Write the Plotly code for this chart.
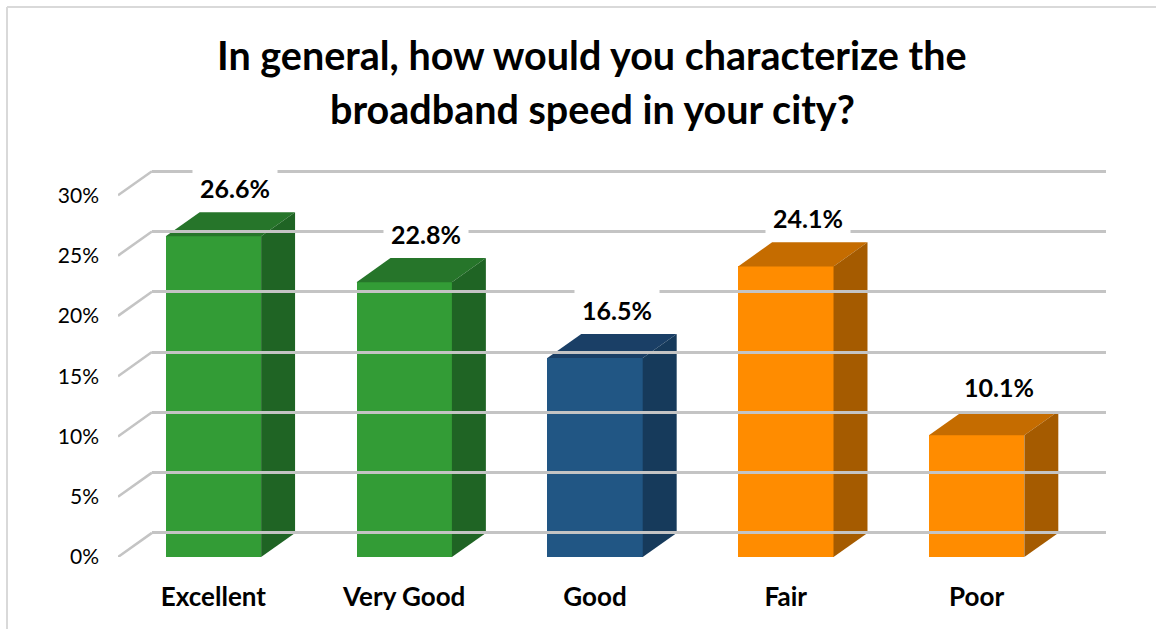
import plotly.graph_objects as go

# ---- data ----
categories = ["Excellent", "Very Good", "Good", "Fair", "Poor"]
values = [26.6, 22.8, 16.5, 24.1, 10.1]
value_labels = ["26.6%", "22.8%", "16.5%", "24.1%", "10.1%"]
y_ticks = [0, 5, 10, 15, 20, 25, 30]
y_tick_labels = ["0%", "5%", "10%", "15%", "20%", "25%", "30%"]
title_lines = ["In general, how would you characterize the", "broadband speed in your city?"]

# ---- style ----
front_colors = ["#339c36", "#339c36", "#215684", "#ff8c00", "#ff8c00"]
top_colors = ["#26752a", "#26752a", "#1a3f66", "#c56c00", "#c56c00"]
side_colors = ["#1f6424", "#1f6424", "#163a5b", "#a55b00", "#a55b00"]
grid_color = "#c4c4c4"
FONT = "Lato"

W, H = 1156, 629
ML, MR, MT, MB = 118, 50, 167, 72
BAR_W = 0.5
DX = 0.178   # depth offset in x units
DY = 2.0     # depth offset in y units
XR = [-0.5, 4.5 + DX]
YR = [0, 32.35]

pw = W - ML - MR
ph = H - MT - MB
def px_x(p):
    return (p - ML) / pw
def px_y(p):
    return (H - MB - p) / ph

fig = go.Figure()

x_pos = list(range(len(categories)))

# front faces
fig.add_trace(go.Bar(
    x=x_pos, y=values, width=BAR_W,
    marker=dict(color=front_colors, line=dict(width=0)),
    hoverinfo="skip", showlegend=False,
))

# top & side faces
for i, v in enumerate(values):
    xl = i - BAR_W / 2
    xr = i + BAR_W / 2
    fig.add_trace(go.Scatter(
        x=[xl, xl + DX, xr + DX, xr, xl],
        y=[v, v + DY, v + DY, v, v],
        fill="toself", fillcolor=top_colors[i], mode="lines",
        line=dict(width=0, color=top_colors[i]),
        hoverinfo="skip", showlegend=False,
    ))
    fig.add_trace(go.Scatter(
        x=[xr, xr + DX, xr + DX, xr, xr],
        y=[0, DY, v + DY, v, 0],
        fill="toself", fillcolor=side_colors[i], mode="lines",
        line=dict(width=0, color=side_colors[i]),
        hoverinfo="skip", showlegend=False,
    ))

# left diagonal gridline segments (side wall)
for t in y_ticks:
    fig.add_trace(go.Scatter(
        x=[XR[0], XR[0] + DX], y=[t, t + DY], mode="lines",
        line=dict(color=grid_color, width=2.5),
        hoverinfo="skip", showlegend=False,
    ))

# data labels
for i, v in enumerate(values):
    fig.add_annotation(
        x=i + 0.115, y=v + DY + 2.0, xref="x", yref="y",
        text="<b>" + value_labels[i] + "</b>", showarrow=False,
        font=dict(family=FONT, size=25, color="#000000"),
        bgcolor="#ffffff", borderpad=7, yanchor="middle",
    )

# title
fig.add_annotation(x=px_x(592), y=px_y(55), xref="paper", yref="paper",
                   text="<b>" + title_lines[0] + "</b>", showarrow=False,
                   font=dict(family=FONT, size=39.5, color="#000000"),
                   xanchor="center", yanchor="middle")
fig.add_annotation(x=px_x(592), y=px_y(108), xref="paper", yref="paper",
                   text="<b>" + title_lines[1] + "</b>", showarrow=False,
                   font=dict(family=FONT, size=39.5, color="#000000"),
                   xanchor="center", yanchor="middle")

# chart border (left & top)
fig.add_shape(type="line", xref="paper", yref="paper",
              x0=px_x(7), x1=px_x(7), y0=px_y(7), y1=px_y(H + 5),
              line=dict(color="#d9d9d9", width=2))
fig.add_shape(type="line", xref="paper", yref="paper",
              x0=px_x(7), x1=px_x(W + 5), y0=px_y(7), y1=px_y(7),
              line=dict(color="#d9d9d9", width=2))

fig.update_layout(
    width=W, height=H,
    margin=dict(l=ML, r=MR, t=MT, b=MB),
    paper_bgcolor="#ffffff", plot_bgcolor="rgba(0,0,0,0)",
    bargap=0,
    xaxis=dict(range=XR, tickvals=x_pos, ticktext=["<b>%s</b>" % c for c in categories],
               showgrid=False, zeroline=False, showline=False, ticks="",
               tickfont=dict(family=FONT, size=26, color="#000000"),
               ticklabelstandoff=22, fixedrange=True),
    yaxis=dict(range=YR, tickvals=y_ticks, ticktext=y_tick_labels,
               showgrid=False, zeroline=False, showline=False, ticks="",
               tickfont=dict(family=FONT, size=21, color="#000000"),
               ticklabelstandoff=18, fixedrange=True),
    xaxis2=dict(domain=[DX / (XR[1] - XR[0]), 1], range=[0, 1], visible=False,
                showgrid=False, anchor="y2", fixedrange=True),
    yaxis2=dict(overlaying="y", anchor="x2", range=[YR[0] - DY, YR[1] - DY],
                tickvals=y_ticks, showticklabels=False, showgrid=True,
                gridcolor=grid_color, gridwidth=2.5, zeroline=False,
                showline=False, ticks="", fixedrange=True),
)

# invisible trace to activate the back-wall subplot
fig.add_trace(go.Scatter(x=[0], y=[0], xaxis="x2", yaxis="y2", mode="markers",
                         marker=dict(opacity=0), hoverinfo="skip", showlegend=False))

fig.write_html("out.html", config={"displayModeBar": False},
               post_script="document.body.style.margin='0px';")
